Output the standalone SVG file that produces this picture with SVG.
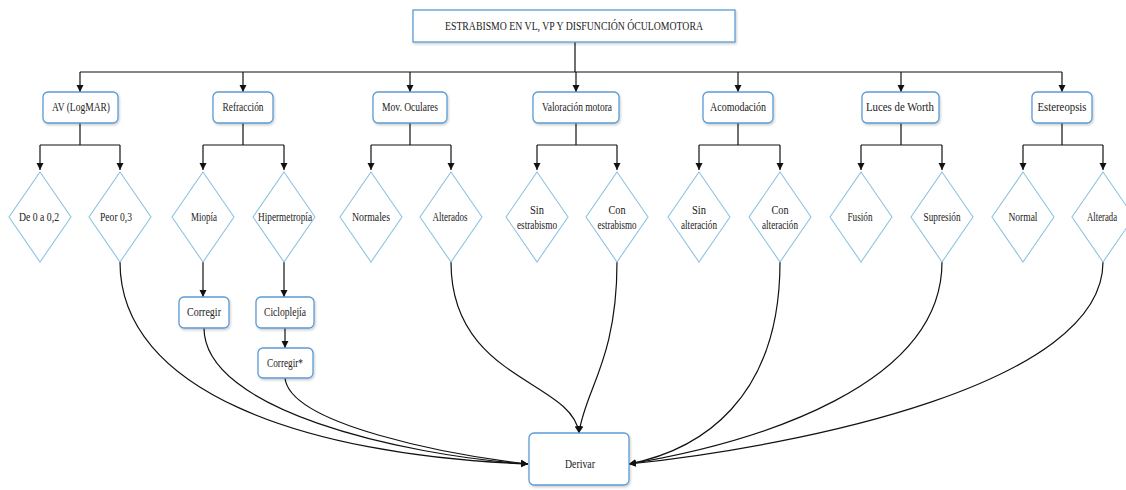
<svg xmlns="http://www.w3.org/2000/svg" width="1126" height="490" viewBox="0 0 1126 490">
<defs>
<marker id="arr" viewBox="0 0 10 10" refX="10" refY="5" markerWidth="7" markerHeight="8" markerUnits="userSpaceOnUse" orient="auto"><path d="M0,0 L10,5 L0,10 z" fill="#111"/></marker>
<filter id="sh" x="-10%" y="-20%" width="130%" height="150%"><feDropShadow dx="1" dy="1.5" stdDeviation="1" flood-color="#000" flood-opacity="0.2"/></filter>
</defs>
<style>
.box{fill:#fff;stroke:#5b9bd5;stroke-width:1.3;filter:url(#sh)}
.dia{fill:#fff;stroke:#8ec3e3;stroke-width:1.1}
.c{fill:none;stroke:#111;stroke-width:1.2}
.a{fill:none;stroke:#111;stroke-width:1.2;marker-end:url(#arr)}
text{font-family:'Liberation Serif','DejaVu Serif',serif;font-size:12px;fill:#222;text-anchor:middle;dominant-baseline:central}
</style>
<rect width="1126" height="490" fill="#fff"/>
<g id="connectors">
<path class="c" d="M575,42 V72 M80,72 H1062"/>
<path class="a" d="M80,72 V92"/><path class="a" d="M243,72 V92"/><path class="a" d="M410,72 V92"/><path class="a" d="M576,72 V92"/><path class="a" d="M738,72 V92"/><path class="a" d="M901,72 V92"/><path class="a" d="M1062,72 V92"/>
<path class="c" d="M80,123 V145 M40,145 H120 M243,123 V145 M203,145 H284 M410,123 V145 M371,145 H451 M576,123 V145 M537,145 H617 M738,123 V145 M699,145 H780 M901,123 V145 M861,145 H942 M1062,123 V145 M1023,145 H1103"/>
<path class="a" d="M40,145 V170"/><path class="a" d="M120,145 V170"/><path class="a" d="M203,145 V170"/><path class="a" d="M284,145 V170"/><path class="a" d="M371,145 V170"/><path class="a" d="M451,145 V170"/><path class="a" d="M537,145 V170"/><path class="a" d="M617,145 V170"/><path class="a" d="M699,145 V170"/><path class="a" d="M780,145 V170"/><path class="a" d="M861,145 V170"/><path class="a" d="M942,145 V170"/><path class="a" d="M1023,145 V170"/><path class="a" d="M1103,145 V170"/>
<path class="a" d="M203,262 V297"/>
<path class="a" d="M284,262 V297"/>
<path class="a" d="M285,328 V348"/>
<path class="a" d="M120,262 C120,390 300,455 528,464"/>
<path class="a" d="M204,328 C204,410 400,455 528,464"/>
<path class="a" d="M285,378 C290,425 450,455 528,464"/>
<path class="a" d="M451,262 C451,380 572,380 579,433"/>
<path class="a" d="M617,262 C617,360 585,390 579,433"/>
<path class="a" d="M780,262 C780,400 700,450 629,464"/>
<path class="a" d="M942,262 C942,385 760,442 629,464"/>
<path class="a" d="M1103,262 C1103,385 800,446 629,464"/>
</g>
<g id="root"><rect x="413" y="10" width="322" height="32" fill="#fff" stroke="#5b9bd5" stroke-width="1.3" filter="url(#sh)"/><text x="574" y="26" textLength="258" lengthAdjust="spacingAndGlyphs">ESTRABISMO EN VL, VP Y DISFUNCIÓN ÓCULOMOTORA</text></g>
<g id="av"><rect class="box" x="43" y="92" width="75" height="31" rx="5"/><text x="81" y="107" textLength="58" lengthAdjust="spacingAndGlyphs">AV (LogMAR)</text></g>
<g id="refraccion"><rect class="box" x="213" y="92" width="60" height="31" rx="5"/><text x="243" y="107" textLength="41" lengthAdjust="spacingAndGlyphs">Refracción</text></g>
<g id="mov"><rect class="box" x="373" y="92" width="74" height="31" rx="5"/><text x="410" y="107" textLength="56" lengthAdjust="spacingAndGlyphs">Mov. Oculares</text></g>
<g id="valoracion"><rect class="box" x="533" y="92" width="86" height="31" rx="5"/><text x="577" y="107" textLength="70" lengthAdjust="spacingAndGlyphs">Valoración motora</text></g>
<g id="acomodacion"><rect class="box" x="703" y="92" width="70" height="31" rx="5"/><text x="738" y="107" textLength="56" lengthAdjust="spacingAndGlyphs">Acomodación</text></g>
<g id="worth"><rect class="box" x="862" y="92" width="77" height="31" rx="5"/><text x="900" y="107" textLength="68" lengthAdjust="spacingAndGlyphs">Luces de Worth</text></g>
<g id="estereopsis"><rect class="box" x="1032" y="92" width="60" height="31" rx="5"/><text x="1062" y="107" textLength="49" lengthAdjust="spacingAndGlyphs">Estereopsis</text></g>
<g id="d1"><path class="dia" d="M40,172 L71,217 L40,262 L9,217 Z"/><text x="39" y="217" textLength="40" lengthAdjust="spacingAndGlyphs">De 0 a 0,2</text></g>
<g id="d2"><path class="dia" d="M120,172 L151,217 L120,262 L89,217 Z"/><text x="116" y="217" textLength="32" lengthAdjust="spacingAndGlyphs">Peor 0,3</text></g>
<g id="d3"><path class="dia" d="M203,172 L234,217 L203,262 L172,217 Z"/><text x="204" y="217" textLength="26" lengthAdjust="spacingAndGlyphs">Miopía</text></g>
<g id="d4"><path class="dia" d="M284,172 L315,217 L284,262 L253,217 Z"/><text x="285" y="217" textLength="54" lengthAdjust="spacingAndGlyphs">Hipermetropía</text></g>
<g id="d5"><path class="dia" d="M371,172 L402,217 L371,262 L340,217 Z"/><text x="371" y="217" textLength="38" lengthAdjust="spacingAndGlyphs">Normales</text></g>
<g id="d6"><path class="dia" d="M451,172 L482,217 L451,262 L420,217 Z"/><text x="450" y="217" textLength="35" lengthAdjust="spacingAndGlyphs">Alterados</text></g>
<g id="d7"><path class="dia" d="M537,172 L568,217 L537,262 L506,217 Z"/><text x="537" y="210" textLength="14" lengthAdjust="spacingAndGlyphs">Sin</text><text x="537" y="225" textLength="40" lengthAdjust="spacingAndGlyphs">estrabismo</text></g>
<g id="d8"><path class="dia" d="M617,172 L648,217 L617,262 L586,217 Z"/><text x="617" y="210" textLength="17" lengthAdjust="spacingAndGlyphs">Con</text><text x="617" y="225" textLength="39" lengthAdjust="spacingAndGlyphs">estrabismo</text></g>
<g id="d9"><path class="dia" d="M699,172 L730,217 L699,262 L668,217 Z"/><text x="699" y="210" textLength="14" lengthAdjust="spacingAndGlyphs">Sin</text><text x="699" y="225" textLength="36" lengthAdjust="spacingAndGlyphs">alteración</text></g>
<g id="d10"><path class="dia" d="M780,172 L811,217 L780,262 L749,217 Z"/><text x="780" y="210" textLength="17" lengthAdjust="spacingAndGlyphs">Con</text><text x="780" y="225" textLength="36" lengthAdjust="spacingAndGlyphs">alteración</text></g>
<g id="d11"><path class="dia" d="M861,172 L892,217 L861,262 L830,217 Z"/><text x="860" y="217" textLength="25" lengthAdjust="spacingAndGlyphs">Fusión</text></g>
<g id="d12"><path class="dia" d="M942,172 L973,217 L942,262 L911,217 Z"/><text x="942" y="217" textLength="37" lengthAdjust="spacingAndGlyphs">Supresión</text></g>
<g id="d13"><path class="dia" d="M1023,172 L1054,217 L1023,262 L992,217 Z"/><text x="1023" y="217" textLength="29" lengthAdjust="spacingAndGlyphs">Normal</text></g>
<g id="d14"><path class="dia" d="M1103,172 L1134,217 L1103,262 L1072,217 Z"/><text x="1102" y="217" textLength="30" lengthAdjust="spacingAndGlyphs">Alterada</text></g>
<g id="corregir"><rect class="box" x="179" y="297" width="50" height="31" rx="5"/><text x="204" y="312" textLength="34" lengthAdjust="spacingAndGlyphs">Corregir</text></g>
<g id="cicloplejia"><rect class="box" x="256" y="297" width="58" height="31" rx="5"/><text x="285" y="312" textLength="42" lengthAdjust="spacingAndGlyphs">Cicloplejía</text></g>
<g id="corregir2"><rect class="box" x="258" y="348" width="55" height="30" rx="5"/><text x="285" y="363" textLength="36" lengthAdjust="spacingAndGlyphs">Corregir*</text></g>
<g id="derivar"><rect class="box" x="529" y="433" width="100" height="52" rx="5"/><text x="580" y="464" textLength="30" lengthAdjust="spacingAndGlyphs">Derivar</text></g>
</svg>
